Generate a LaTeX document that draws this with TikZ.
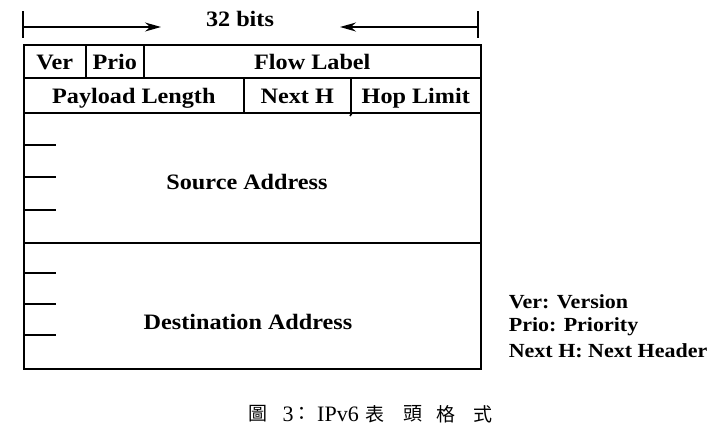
\documentclass[tikz,border=0pt]{standalone}
\usepackage{fontspec}
\setmainfont[FakeStretch=1.1]{Liberation Serif}
\newfontfamily\capfont{Liberation Serif}
\newfontfamily\cjk{Noto Sans CJK TC}
\usetikzlibrary{arrows.meta}
\begin{document}
\begin{tikzpicture}[x=1pt,y=-1pt,line width=1.6pt,
  lbl/.style={font=\bfseries\fontsize{22}{24}\selectfont,inner sep=0pt},
  leg/.style={font=\bfseries\fontsize{20}{22}\selectfont,inner sep=0pt,anchor=west},
  field/.style={draw,anchor=north west,inner sep=0pt,text height=20pt,text depth=3.5pt,font=\bfseries\fontsize{22}{24}\selectfont},
  capc/.style={inner sep=0pt,font=\cjk\fontsize{19}{21}\selectfont},
  capl/.style={inner sep=0pt,font=\capfont\fontsize{22}{24}\selectfont},
  tick/.style={line width=1.4pt},
  dim/.style={line width=1.4pt,-{Stealth[length=16pt,width=9pt]}}]
\useasboundingbox (0,0) rectangle (722,445);
% row 1
\node[field,minimum width=62pt,minimum height=33pt] (ver) at (23,44) {Ver};
\node[field,minimum width=58pt,minimum height=33pt] (prio) at (85,44) {Prio};
\node[field,minimum width=337pt,minimum height=33pt] (flow) at (143,44) {Flow Label};
% row 2
\node[field,minimum width=220pt,minimum height=35pt] (pay) at (23,77) {Payload Length};
\node[field,minimum width=107pt,minimum height=35pt] (next) at (243,77) {Next H};
\node[field,minimum width=130pt,minimum height=35pt] (hop) at (350,77) {Hop Limit};
% addresses
\node[field,minimum width=457pt,minimum height=130pt] (src) at (23,112) {};
\node[field,minimum width=457pt,minimum height=126pt] (dst) at (23,242) {};
\node[lbl] (srct) at (247,182) {Source Address};
\node[lbl] (dstt) at (248,322) {Destination Address};
\coordinate (nh) at (350,116);
\draw (next.south east) -- (nh);
% ticks
\foreach \y/\n in {145/s1,177/s2,210/s3,273/d1,304/d2,335/d3}{
  \coordinate (\n a) at (23,\y);
  \coordinate (\n b) at (56,\y);
  \draw[tick] (\n a) -- (\n b);
}
% dimension
\coordinate (l1) at (23,11);
\coordinate (l2) at (23,38);
\coordinate (r1) at (478,11);
\coordinate (r2) at (478,38);
\draw[tick] (l1) -- (l2);
\draw[tick] (r1) -- (r2);
\coordinate (lm) at (23,27);
\coordinate (la) at (161,27);
\coordinate (rm) at (478,27);
\coordinate (ra) at (340,27);
\draw[dim] (lm) -- (la);
\draw[dim] (rm) -- (ra);
\node[lbl] (bits) at (240,19) {32 bits};
% legend
\node[leg] (lg1) at (508,302) {Ver: Version};
\node[leg] (lg2) at (508,327) {Prio: Priority};
\node[leg] (lg3) at (508,351) {Next H: Next Header};
% caption
\node[capc] (c1) at (258,414) {圖};
\node[capl] (c2) at (288,414) {3};
\node[capc] (c3) at (302,414) {：};
\node[capl] (c4) at (338,414) {IPv6};
\node[capc] (c5) at (375,414) {表};
\node[capc] (c6) at (413,414) {頭};
\node[capc] (c7) at (446,414) {格};
\node[capc] (c8) at (483,414) {式};
\end{tikzpicture}
\end{document}
